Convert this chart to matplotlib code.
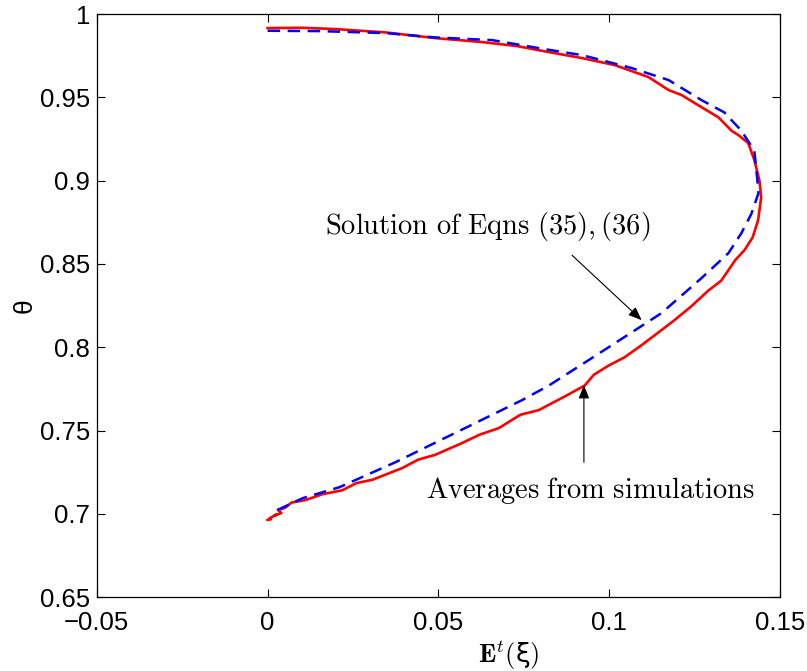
import matplotlib
matplotlib.use("Agg")
import matplotlib.pyplot as plt

plt.rcParams['mathtext.fontset'] = 'cm'

# Solution of Eqns (35),(36) (blue dashed)
sol_E = [0.000, 0.015, 0.0345, 0.049, 0.0657, 0.081, 0.092, 0.1066, 0.1174, 0.127,
         0.1337, 0.1387, 0.1425, 0.1434, 0.1437, 0.1416, 0.1387, 0.1349, 0.132, 0.127,
         0.122, 0.1153, 0.1104, 0.0949, 0.0823, 0.0745, 0.0578, 0.0374,
         0.021, 0.0102, 0.0015]
sol_theta = [0.990, 0.9898, 0.9886, 0.986, 0.9844, 0.979, 0.9754, 0.9676, 0.9604, 0.9484,
             0.941, 0.930, 0.918, 0.900, 0.8925, 0.880, 0.8685, 0.8565, 0.851, 0.8415,
             0.8325, 0.8205, 0.8140, 0.7935, 0.777, 0.7683, 0.7515, 0.731,
             0.716, 0.7094, 0.701]

# Averages from simulations (red)
sim_E = [0.000, 0.0102, 0.020, 0.0345, 0.049, 0.0628, 0.073, 0.0823, 0.092, 0.1016,
         0.1115, 0.1174, 0.1212, 0.126, 0.132, 0.1358, 0.1378, 0.1407, 0.1425, 0.144,
         0.1445, 0.1436, 0.142, 0.1396, 0.1369, 0.1328, 0.129, 0.124, 0.1191, 0.1153,
         0.1095, 0.1045, 0.0998, 0.0955, 0.0928, 0.087, 0.0794, 0.074, 0.0677, 0.062,
         0.0569, 0.0491, 0.044, 0.0394, 0.0307, 0.026, 0.0219, 0.016, 0.0111, 0.007,
         0.005, 0.003, 0.004, 0.002, 0.0025, 0.0006, 0.001, 0.000]
sim_theta = [0.9916, 0.9918, 0.991, 0.989, 0.9856, 0.9832, 0.9808, 0.9772, 0.9736, 0.9694,
             0.9622, 0.9544, 0.9514, 0.9454, 0.938, 0.930, 0.9274, 0.9226, 0.9124, 0.900,
             0.890, 0.8763, 0.866, 0.8583, 0.8523, 0.840, 0.834, 0.8245, 0.8163, 0.8103,
             0.8013, 0.794, 0.789, 0.7835, 0.777, 0.7705, 0.7623, 0.7595, 0.7515, 0.7475,
             0.7425, 0.7355, 0.7325, 0.7275, 0.7205, 0.7185, 0.7142, 0.7118, 0.7083, 0.7068,
             0.7035, 0.7025, 0.7005, 0.699, 0.6995, 0.6974, 0.6968, 0.6964]

xticks = [-0.05, 0, 0.05, 0.1, 0.15]
xticklabels = ['\u22120.05', '0', '0.05', '0.1', '0.15']
yticks = [0.65, 0.7, 0.75, 0.8, 0.85, 0.9, 0.95, 1.0]
yticklabels = ['0.65', '0.7', '0.75', '0.8', '0.85', '0.9', '0.95', '1']

fig = plt.figure(figsize=(8.07, 6.71), dpi=100)
ax = fig.add_axes([0.120, 0.110, 0.8465, 0.869])

ax.plot(sim_E, sim_theta, color='#ff0000', lw=1.9, solid_joinstyle='round')
ax.plot(sol_E, sol_theta, color='#0000ff', lw=1.8, linestyle=(0, (5, 3)))

ax.set_xlim(-0.05, 0.15)
ax.set_ylim(0.65, 1.0)
ax.set_xticks(xticks)
ax.set_xticklabels(xticklabels, family='Liberation Sans', fontsize=18.5)
ax.set_yticks(yticks)
ax.set_yticklabels(yticklabels, family='Liberation Sans', fontsize=18.5)
ax.tick_params(direction='in', top=True, right=True, length=6, width=0.8)
ax.tick_params(axis='x', pad=10)
ax.tick_params(axis='y', pad=5)
for s in ax.spines.values():
    s.set_linewidth(0.9)

ax.set_xlabel(r'$\mathbf{E}^t($' + '\u03be' + r'$)$', fontsize=19,
              family='DejaVu Sans')
ax.xaxis.set_label_coords(0.603, -0.070)
ax.set_ylabel('\u03b8', family='Liberation Sans', fontsize=19)
ax.yaxis.set_label_coords(-0.088, 0.5)

arrow_style = '-|>,head_length=0.45,head_width=0.18'
ax.text(0.0645, 0.8724, r'$\mathrm{Solution\ of\ Eqns\ (35),(36)}$', ha='center',
        va='center', fontsize=20.5)
ax.annotate('', xy=(0.1095, 0.8163), xytext=(0.0891, 0.8553),
            arrowprops=dict(arrowstyle=arrow_style, color='black', lw=0.8,
                            mutation_scale=18, shrinkA=0, shrinkB=0))
ax.annotate('', xy=(0.0926, 0.7773), xytext=(0.0926, 0.731),
            arrowprops=dict(arrowstyle=arrow_style, color='black', lw=0.8,
                            mutation_scale=18, shrinkA=0, shrinkB=0))
ax.text(0.0946, 0.7138, r'$\mathrm{Averages\ from\ simulations}$', ha='center',
        va='center', fontsize=20.5)

fig.savefig('out.png', dpi=100)
